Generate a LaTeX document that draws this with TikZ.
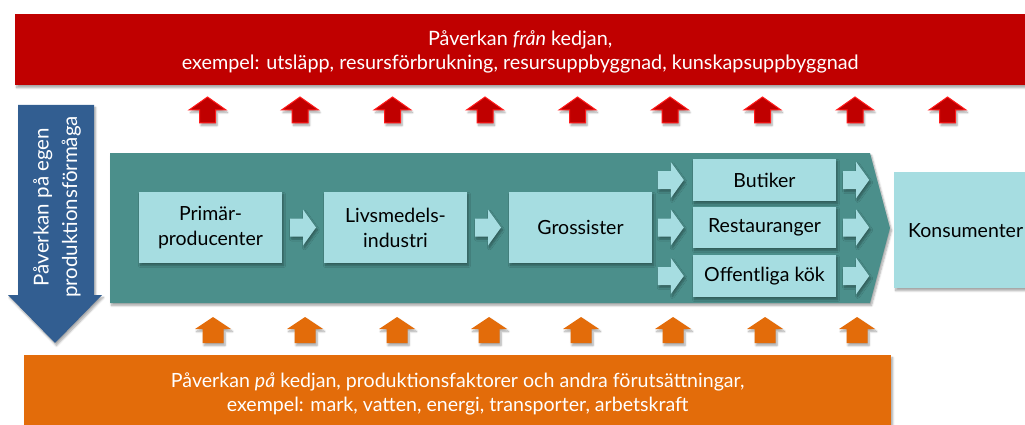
\documentclass[tikz,border=0pt]{standalone}
\usepackage{fontspec}
\setmainfont{Lato}
\usetikzlibrary{calc,shadows.blur}
\definecolor{redbg}{HTML}{C00000}
\definecolor{redglow}{HTML}{FF1A1A}
\definecolor{tealbg}{HTML}{4B8F8B}
\definecolor{cyanbox}{HTML}{A6DDE1}
\definecolor{bluearr}{HTML}{325E91}
\definecolor{orangebg}{HTML}{E36C0A}
\tikzset{
  shad/.style={blur shadow={shadow blur steps=6,shadow xshift=1.5pt,shadow yshift=-2.5pt,shadow opacity=35}},
  stage/.style={fill=cyanbox,shad,align=center,inner sep=0pt,font=\fontsize{19.5}{25}\selectfont,text=black},
  band/.style={inner sep=0pt,align=center,text=white,font=\fontsize{19.8}{23}\selectfont},
  rarrow/.pic={\fill[cyanbox,shad] (-13,-9) -- (0,-9) -- (0,-18) -- (13,0) -- (0,18) -- (0,9) -- (-13,9) -- cycle;},
  redup/.pic={\fill[redbg,draw=redglow,line width=1pt,shad] (-8,13) -- (8,13) -- (8,0) -- (18.5,0) -- (0,-13) -- (-18.5,0) -- (-8,0) -- cycle;},
  orangeup/.pic={\fill[orangebg,shad] (-10.5,13) -- (10.5,13) -- (10.5,-1) -- (18,-1) -- (0,-13) -- (-18,-1) -- (-10.5,-1) -- cycle;}
}
\begin{document}
\begin{tikzpicture}[x=1pt,y=-1pt]
\useasboundingbox (0,0) rectangle (1025,425);
% top red band
\node[band,fill=redbg,shad,minimum width=1010pt,minimum height=71pt,anchor=north west] (fran) at (15,14) {};
\node[band,font=\fontsize{19.8}{23.5}\selectfont] (frantext) at ($(fran.center)+(0,2)$)
  {Påverkan \textit{från} kedjan,\\exempel: utsläpp, resursförbrukning, resursuppbyggnad, kunskapsuppbyggnad};
% bottom orange band
\node[band,fill=orangebg,shad,minimum width=867pt,minimum height=70pt,anchor=north west] (pa) at (24,355) {};
\node[band,font=\fontsize{19.6}{24}\selectfont] (patext) at ($(pa.center)+(0,4)$)
  {Påverkan \textit{på} kedjan, produktionsfaktorer och andra förutsättningar,\\exempel: mark, vatten, energi, transporter, arbetskraft};
% blue arrow
\fill[bluearr,shad] (18,105) -- (94,105) -- (94,295) -- (102,295) -- (55,343) -- (8,295) -- (18,295) -- cycle;
\node[rotate=90,align=center,text=white,font=\fontsize{20.5}{28.5}\selectfont,inner sep=0pt] (egen) at (57,207)
  {Påverkan på egen\\produktionsförmåga};
% teal chain arrow
\fill[tealbg,shad] (110,153) -- (870,153) -- (890,228) -- (870,303) -- (110,303) -- cycle;
% stages
\node[stage,minimum width=143pt,minimum height=71pt] (prim) at (210.5,227.5) {Primär-\\producenter};
\node[stage,minimum width=143pt,minimum height=71pt] (livs) at (395.5,227.5) {Livsmedels-\\industri};
\node[stage,minimum width=143pt,minimum height=71pt] (gross) at (580.5,227.5) {Grossister};
\node[stage,minimum width=143pt,minimum height=42pt] (but) at (764.5,180) {Butiker};
\node[stage,minimum width=143pt,minimum height=41pt] (rest) at (764.5,227.5) {Restauranger};
\node[stage,minimum width=143pt,minimum height=42pt] (off) at (764.5,276) {Offentliga kök};
\node[stage,minimum width=140pt,minimum height=116pt,anchor=north west] (kons) at (894,172) {};
\node[font=\fontsize{19.5}{25}\selectfont,anchor=west,inner sep=0pt] (konstext) at (kons.west) {\hspace{14pt}Konsumenter};
% block connectors
\path ($(prim.east)!0.5!(livs.west)$) pic {rarrow};
\path ($(livs.east)!0.5!(gross.west)$) pic {rarrow};
\path ($(but.west)+(-22,0)$) pic {rarrow};
\path ($(rest.west)+(-22,0)$) pic {rarrow};
\path ($(off.west)+(-22,0)$) pic {rarrow};
\path ($(but.east)+(20,0)$) pic {rarrow};
\path ($(rest.east)+(20,0)$) pic {rarrow};
\path ($(off.east)+(20,0)$) pic {rarrow};
% red up arrows
\foreach \i in {0,...,8} \path (207.5+92.5*\i,110) pic {redup};
% orange up arrows
\foreach \i in {0,...,7} \path (213+92*\i,330) pic {orangeup};
\end{tikzpicture}
\end{document}
